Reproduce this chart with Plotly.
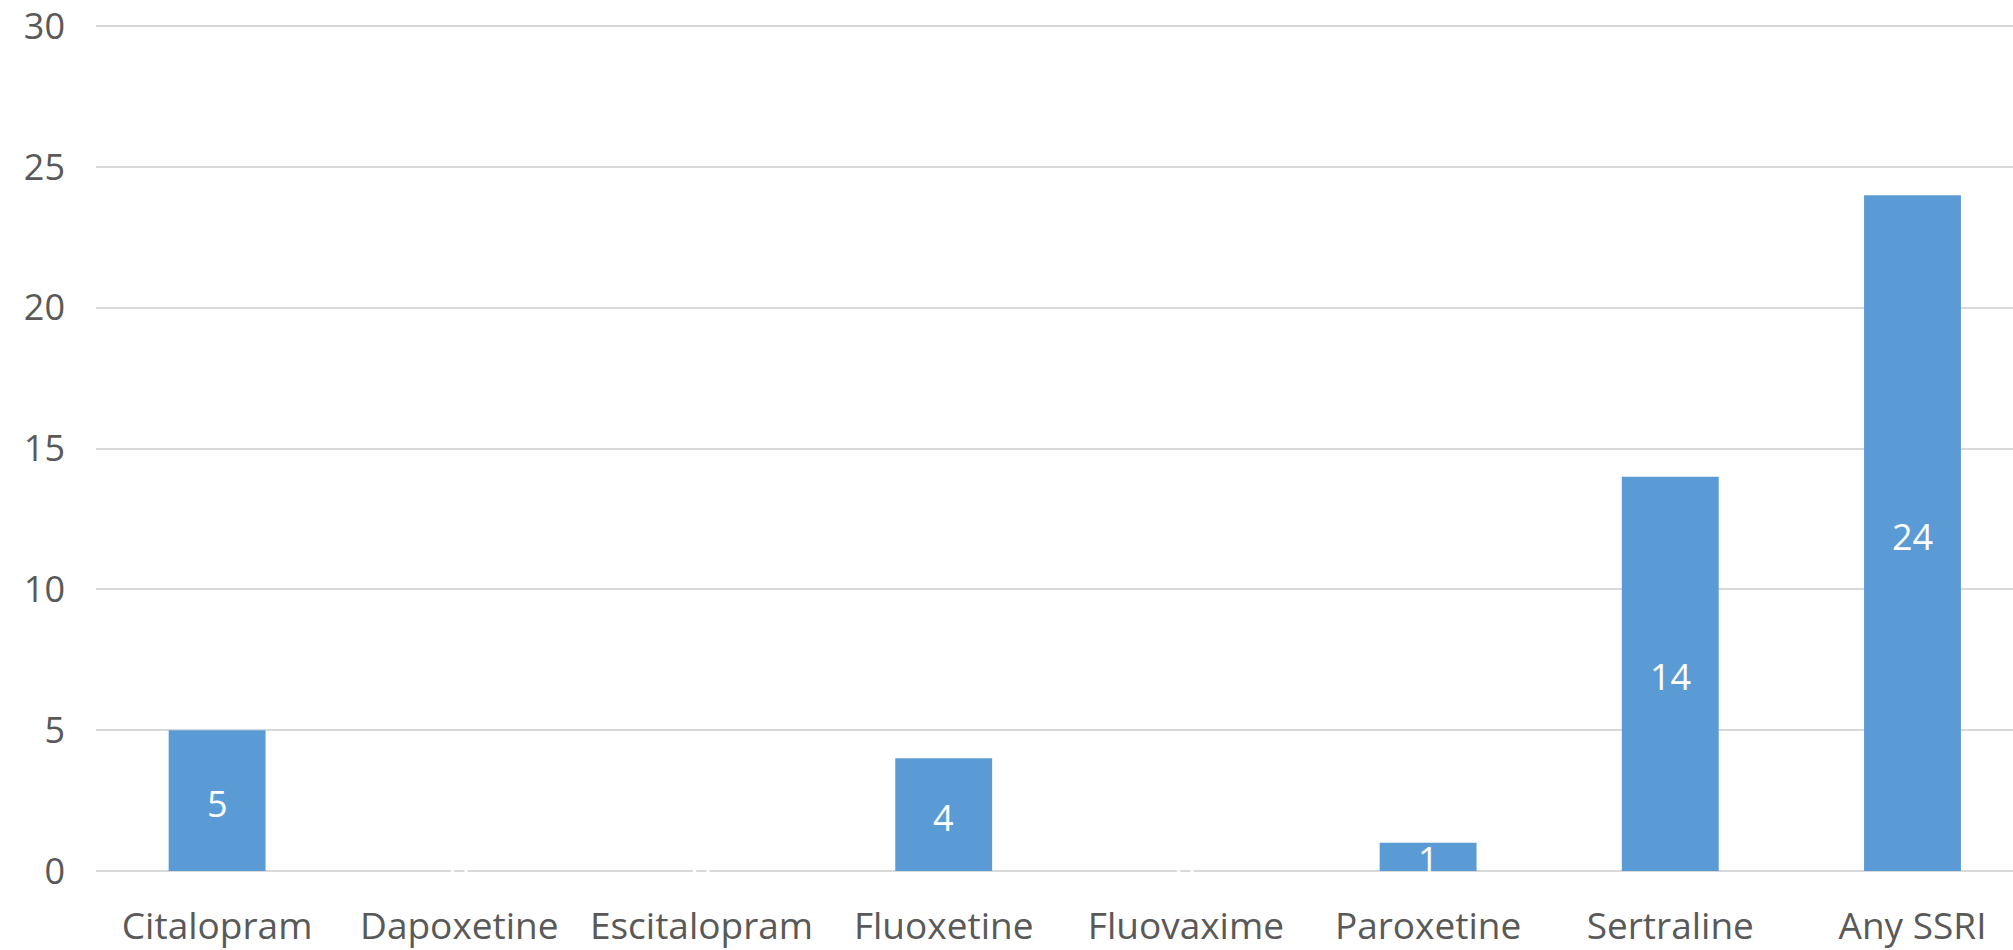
import plotly.graph_objects as go

categories = ["Citalopram", "Dapoxetine", "Escitalopram", "Fluoxetine",
              "Fluovaxime", "Paroxetine", "Sertraline", "Any SSRI"]
values = [5, 0, 0, 4, 0, 1, 14, 24]
y_ticks = [0, 5, 10, 15, 20, 25, 30]

BAR = "#5b9bd5"
TXT = "#595959"
GRID = "#d9d9d9"
FONT = "Open Sans"

fig = go.Figure()
fig.add_trace(go.Bar(x=categories, y=values, marker=dict(color=BAR, line=dict(width=0)),
                     hoverinfo="skip"))

for c, v in zip(categories, values):
    fig.add_annotation(x=c, y=v / 2, xref="x", yref="y", text=str(v), showarrow=False,
                       yshift=-3, font=dict(color="white", size=36, family=FONT))

fig.update_layout(
    width=2013, height=950,
    margin=dict(l=96, r=0, t=24, b=79),
    paper_bgcolor="white", plot_bgcolor="white",
    showlegend=False, bargap=0.6,
    font=dict(family=FONT, color=TXT, size=37),
)
fig.update_xaxes(type="category", range=[-0.5, 7.415], showgrid=False,
                 showline=False, zeroline=False, ticks="", automargin=False,
                 tickfont=dict(size=37, color=TXT, family=FONT),
                 ticklabelstandoff=30)
fig.update_yaxes(range=[0, 30.08], tickvals=y_ticks, showgrid=True, gridcolor=GRID,
                 gridwidth=2, zeroline=True, zerolinecolor=GRID, zerolinewidth=2,
                 showline=False, ticks="", ticklabeloverflow="allow", automargin=False,
                 tickfont=dict(size=36, color=TXT, family=FONT),
                 ticklabelstandoff=30)

fig.write_html("out.html", config={"displayModeBar": False},
               post_script="document.body.style.margin='0';document.body.style.overflow='hidden';")
